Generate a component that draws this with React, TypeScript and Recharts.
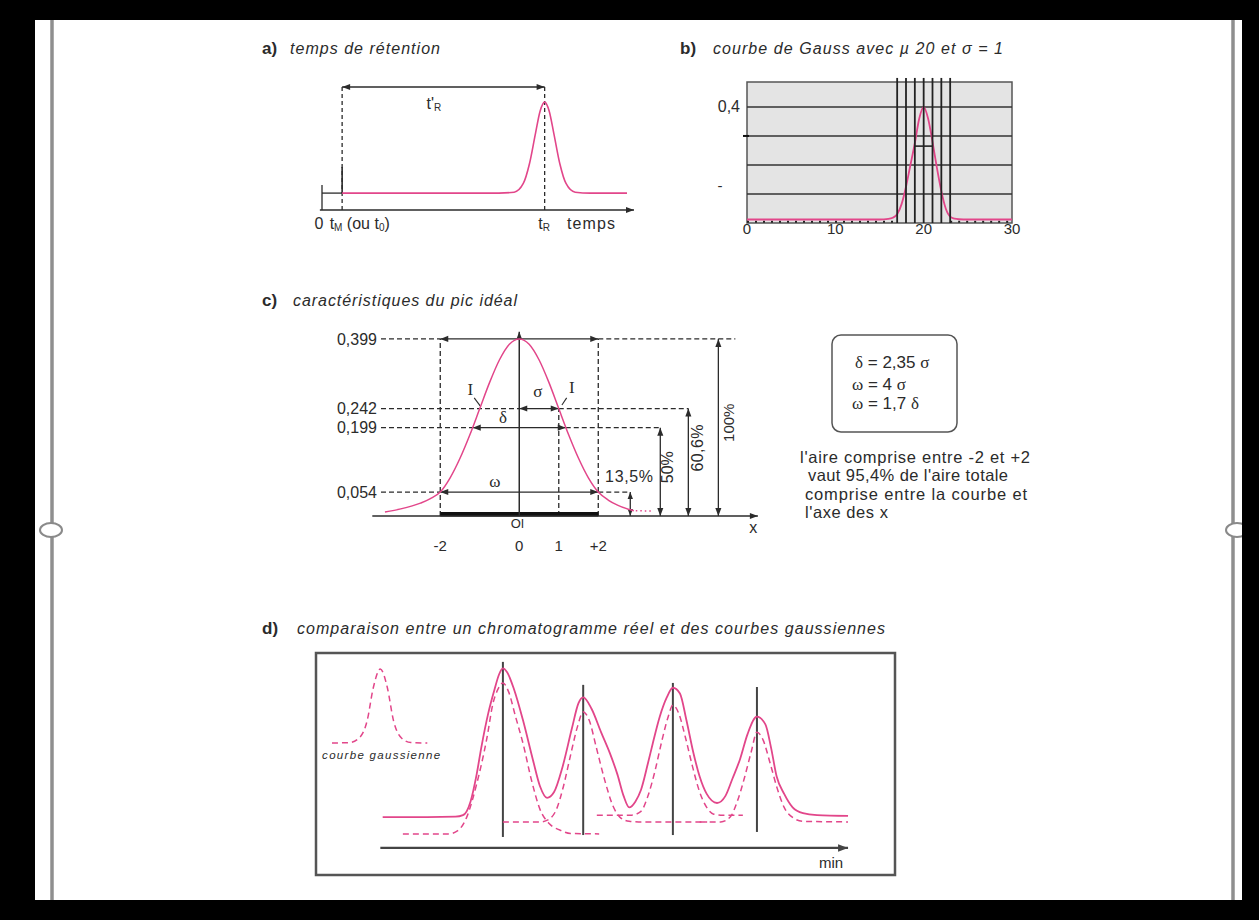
import React from 'react';
import { LineChart, Line, XAxis, YAxis, ReferenceLine, ReferenceDot, ReferenceArea } from 'recharts';

const SANS = '"Liberation Sans", Arial, sans-serif';
const SERIF = '"Liberation Serif", "Times New Roman", serif';
const PINK = '#e2468a';
const INK = '#2b2b2b';

// a) temps de rétention
const aTime = [0.66, 2, 4, 5.8, 6.3, 6.6, 6.8, 7.0, 7.15, 7.3, 7.45, 7.6, 7.8, 8.0, 8.3, 8.8, 10];
const aSignal = [1.3, 1.3, 1.3, 1.3, 1.37, 2.04, 3.54, 5.9, 7.6, 8.3, 7.6, 5.9, 3.54, 2.04, 1.37, 1.3, 1.3];
const aTM = 0.66;
const aTR = 7.3;

// b) courbe de Gauss, mu 20, sigma 1
const bX = [0, 5, 10, 15, 16, 16.5, 17, 17.5, 18, 18.5, 19, 19.5, 20, 20.5, 21, 21.5, 22, 22.5, 23, 23.5, 24, 25, 30];
const bY = [0.012, 0.012, 0.012, 0.012, 0.014, 0.018, 0.03, 0.065, 0.125, 0.2, 0.275, 0.36, 0.4, 0.36, 0.28, 0.19, 0.11, 0.05, 0.022, 0.015, 0.013, 0.012, 0.012];
const bGridY = [0.1, 0.2, 0.3, 0.4];
const bGridX = [17, 18, 19, 20, 21, 22, 23];
const bTicksX = [0, 10, 20, 30];
const bTicksY = [0.13, 0.3, 0.4];

// c) pic idéal
const cX = [-3.4, -3.0, -2.5, -2.25, -2.0, -1.75, -1.5, -1.25, -1.0, -0.75, -0.5, -0.25, 0, 0.25, 0.5, 0.75, 1.0, 1.25, 1.5, 1.75, 2.0, 2.25, 2.5, 2.9];
const cY = [0.009, 0.016, 0.029, 0.039, 0.054, 0.086, 0.13, 0.183, 0.242, 0.301, 0.352, 0.387, 0.399, 0.387, 0.352, 0.301, 0.242, 0.183, 0.13, 0.086, 0.054, 0.036, 0.024, 0.012];
const cLevels = [0.054, 0.199, 0.242, 0.399];
const cTicksX = [-2, 0, 1, 2];

// d) chromatogramme réel vs gaussiennes
const dRealX = [0.5, 10, 16, 17.6, 19.2, 20.5, 21.5, 23, 24.3, 25.3, 26.1, 27, 28.5, 30.4, 32.5, 34, 35.5, 37, 38.8, 40.8, 42.2, 43.2, 45, 47, 48.9, 50.5, 51.8, 53, 54.3, 55.5, 57, 58, 59.5, 61, 62.3, 63.8, 65.2, 66.6, 68, 69.5, 71.7, 73.5, 75, 76.6, 78.2, 80.2, 82, 83.2, 84.4, 86, 87.8, 90, 93, 99.6];
const dRealY = [16, 16, 16.2, 17, 24, 38, 52, 70, 82, 90, 93, 91, 82, 66, 45.6, 32, 26, 29, 42, 62, 75, 78, 72, 60, 49, 38, 27, 21, 24, 30, 44, 54, 68, 78, 83, 80, 66, 50, 37, 28, 23.3, 27, 36, 46, 59, 68, 64, 52, 37, 28, 21, 18, 17, 16.6];
const dG1X = [4.8, 14.5, 16.5, 18.4, 20.5, 22.7, 24, 25, 26.1, 27.3, 28.8, 30.4, 32.2, 34, 36, 38.2, 40.5, 46.6];
const dG1Y = [7.3, 7.3, 9, 16, 33, 57, 75, 82, 85.5, 81, 68, 54, 35, 20, 12.5, 9.3, 7.5, 7.3];
const dG2X = [26.1, 34, 36, 37.5, 39, 40.5, 42, 43.2, 44.5, 46, 47.8, 49.5, 51, 53, 55, 69.6];
const dG2Y = [13.5, 13.5, 15, 20, 32, 48, 63, 70.5, 66, 52, 35, 22, 16, 13.8, 13.5, 13.5];
const dG3X = [46.1, 53.5, 55.5, 57, 58.5, 60, 61.3, 62.3, 63.5, 65, 66.5, 68, 69.5, 71, 73, 77.2];
const dG3Y = [17, 17, 19, 27, 40, 56, 68, 74, 70, 57, 42, 29, 21, 17.5, 17, 17];
const dG4X = [68, 72.5, 74.5, 76, 77.5, 79, 80.2, 81.5, 83, 84.5, 86, 88, 90, 99.6];
const dG4Y = [13.5, 13.5, 16, 24, 36, 50, 60, 56, 44, 31, 21, 15.5, 13.8, 13.5];
const dSampleX = [-10.3, -6.5, -4.5, -2.8, -1.5, 0, 1.5, 2.8, 4.5, 6.5, 10];
const dSampleY = [54.4, 54.6, 57, 66, 83, 92.7, 83, 66, 57, 54.6, 54.4];
const dPeakX = [26.1, 43.2, 62.3, 80.2];
const dPeakLow = [5.7, 6.7, 6.7, 8.3];
const dPeakHigh = [96.4, 84.5, 85.5, 83.4];

const pts = (xs: number[], ys: number[]) => xs.map((x, i) => ({ x, y: ys[i] }));

type M = { top: number; right: number; bottom: number; left: number };
function frame(px: number, py: number, pw: number, ph: number, m: M, yw = 0, xh = 0) {
  return {
    left: px - m.left - yw,
    top: py - m.top,
    width: m.left + yw + pw + m.right,
    height: m.top + ph + xh + m.bottom,
    margin: m,
  };
}

type SegOpt = { a?: boolean; b?: boolean; dash?: string; w?: number; c?: string; head?: number };
function arrowShape(o: SegOpt) {
  const { a = false, b = false, dash, w = 1.3, c = INK, head = 8 } = o;
  return (p: any) => {
    const { x1, y1, x2, y2 } = p;
    if (x1 == null) return <g />;
    const ang = Math.atan2(y2 - y1, x2 - x1);
    const tri = (x: number, y: number, dir: number) => {
      const bx = x - head * Math.cos(dir);
      const by = y - head * Math.sin(dir);
      const hw = head * 0.38;
      const ox = -Math.sin(dir) * hw;
      const oy = Math.cos(dir) * hw;
      return `${x},${y} ${bx + ox},${by + oy} ${bx - ox},${by - oy}`;
    };
    return (
      <g>
        <line x1={x1} y1={y1} x2={x2} y2={y2} stroke={c} strokeWidth={w} strokeDasharray={dash} />
        {a && <polygon points={tri(x1, y1, ang + Math.PI)} fill={c} />}
        {b && <polygon points={tri(x2, y2, ang)} fill={c} />}
      </g>
    );
  };
}

function seg(id: string, x1: number, y1: number, x2: number, y2: number, o: SegOpt = {}) {
  return (
    <ReferenceLine
      key={id}
      segment={[{ x: x1, y: y1 }, { x: x2, y: y2 }]}
      ifOverflow="visible"
      shape={arrowShape(o)}
    />
  );
}

type TOpt = {
  size?: number;
  anchor?: 'start' | 'middle' | 'end';
  family?: string;
  italic?: boolean;
  bold?: boolean;
  rotate?: number;
  len?: number;
  fill?: string;
};
function note(id: string, x: number, y: number, content: React.ReactNode, o: TOpt = {}) {
  return (
    <ReferenceDot
      key={id}
      x={x}
      y={y}
      r={0}
      ifOverflow="visible"
      shape={(p: any) => (
        <text
          x={p.cx}
          y={p.cy}
          fontSize={o.size ?? 15}
          fontFamily={o.family ?? SANS}
          fontStyle={o.italic ? 'italic' : undefined}
          fontWeight={o.bold ? 700 : undefined}
          textAnchor={o.anchor ?? 'middle'}
          dominantBaseline="central"
          fill={o.fill ?? INK}
          textLength={o.len}
          lengthAdjust={o.len ? 'spacing' : undefined}
          transform={o.rotate ? `rotate(${o.rotate} ${p.cx} ${p.cy})` : undefined}
        >
          {content}
        </text>
      )}
    />
  );
}

function PanelA() {
  const f = frame(322, 80, 305, 130, { top: 10, right: 40, bottom: 30, left: 40 });
  return (
    <div style={{ position: 'absolute', left: f.left, top: f.top }}>
      <LineChart width={f.width} height={f.height} margin={f.margin}>
        <XAxis type="number" dataKey="x" domain={[0, 10]} hide allowDataOverflow />
        <YAxis type="number" domain={[0, 10]} hide allowDataOverflow />
        {seg('axis', -0.07, 0, 10.23, 0, { b: true, w: 1.5 })}
        {seg('tick0', 0, 0, 0, 1.92, { w: 1.3 })}
        {seg('base0', 0, 1.3, aTM, 1.3, { w: 1.3 })}
        {seg('inj', aTM, 1.3, aTM, 3.3, { w: 1.6 })}
        {seg('vtm', aTM, 0, aTM, 9.46, { dash: '4 3' })}
        {seg('vtr', aTR, 0, aTR, 9.46, { dash: '4 3' })}
        {seg('tprime', aTM, 9.46, aTR, 9.46, { a: true, b: true })}
        <Line
          data={pts(aTime, aSignal)}
          dataKey="y"
          type="monotone"
          stroke={PINK}
          strokeWidth={1.6}
          dot={false}
          activeDot={false}
          isAnimationActive={false}
        />
        {note('tpr', 3.67, 8.2, <>t'<tspan dy={4} fontSize={10}>R</tspan></>, { size: 16 })}
        {note('l0', -0.1, -1.0, '0', { size: 16 })}
        {note(
          'ltm',
          0.25,
          -1.0,
          <>
            t<tspan dy={4} fontSize={10}>M</tspan>
            <tspan dy={-4}> (ou t</tspan>
            <tspan dy={4} fontSize={10}>0</tspan>
            <tspan dy={-4}>)</tspan>
          </>,
          { size: 16, anchor: 'start' }
        )}
        {note('ltr', 7.28, -1.0, <>t<tspan dy={4} fontSize={10}>R</tspan></>, { size: 16 })}
        {note('ltemps', 8.03, -1.0, 'temps', { size: 16, anchor: 'start', len: 48 })}
      </LineChart>
    </div>
  );
}

function PanelB() {
  const f = frame(747, 82, 265, 141, { top: 12, right: 30, bottom: 0, left: 0 }, 50, 25);
  return (
    <div style={{ position: 'absolute', left: f.left, top: f.top }}>
      <LineChart width={f.width} height={f.height} margin={f.margin}>
        <XAxis
          type="number"
          dataKey="x"
          domain={[0, 30]}
          ticks={bTicksX}
          interval={0}
          axisLine={false}
          tickLine={false}
          tickSize={0}
          tickMargin={0}
          height={25}
          tick={{ fontSize: 15, fill: INK, fontFamily: SANS }}
          allowDataOverflow
        />
        <YAxis
          type="number"
          domain={[0, 0.486]}
          ticks={bTicksY}
          interval={0}
          width={50}
          axisLine={false}
          tickLine={false}
          tickSize={0}
          tickMargin={7}
          allowDataOverflow
          tick={(p: any) => {
            const v = p.payload.value;
            if (v === 0.4)
              return (
                <text x={p.x} y={p.y} textAnchor="end" dominantBaseline="central" fontSize={16} fill={INK} fontFamily={SANS}>
                  0,4
                </text>
              );
            if (v === 0.3) return <line x1={p.x + 3} x2={p.x + 9} y1={p.y} y2={p.y} stroke="#111" strokeWidth={2} />;
            return (
              <text x={p.x - 20} y={p.y} textAnchor="middle" dominantBaseline="central" fontSize={15} fill={INK} fontFamily={SANS}>
                -
              </text>
            );
          }}
        />
        <ReferenceArea x1={0} x2={30} y1={0} y2={0.486} fill="#e4e4e4" fillOpacity={1} stroke="#555" strokeWidth={1.5} ifOverflow="visible" />
        {bGridY.map((v) => (
          <ReferenceLine key={`gy${v}`} y={v} stroke="#333" strokeWidth={1.6} ifOverflow="visible" />
        ))}
        {seg('dots1', 0, 0.004, 17, 0.004, { dash: '2 6', w: 2, c: '#222' })}
        {seg('dots2', 23, 0.004, 30, 0.004, { dash: '2 6', w: 2, c: '#222' })}
        <Line
          data={pts(bX, bY)}
          dataKey="y"
          type="monotone"
          stroke={PINK}
          strokeWidth={1.8}
          dot={false}
          activeDot={false}
          isAnimationActive={false}
        />
        {bGridX.map((v) => seg(`gx${v}`, v, 0, v, 0.5, { w: 1.8, c: '#222' }))}
        {seg('fwhm', 19, 0.265, 21, 0.265, { w: 1.6, c: '#222' })}
      </LineChart>
    </div>
  );
}

function PanelC() {
  const f = frame(381, 326, 383.2, 190, { top: 10, right: 20, bottom: 0, left: 0 }, 60, 40);
  const dash = '5 3';
  const sigma = 1.177;
  return (
    <div style={{ position: 'absolute', left: f.left, top: f.top }}>
      <LineChart width={f.width} height={f.height} margin={f.margin}>
        <XAxis
          type="number"
          dataKey="x"
          domain={[-3.5, 6.2]}
          ticks={cTicksX}
          interval={0}
          tickFormatter={(v: number) => (v === 2 ? '+2' : String(v))}
          axisLine={false}
          tickLine={false}
          tickSize={0}
          tickMargin={24}
          height={40}
          tick={{ fontSize: 15, fill: INK, fontFamily: SANS }}
          allowDataOverflow
        />
        <YAxis
          type="number"
          domain={[0, 0.428]}
          ticks={cLevels}
          interval={0}
          tickFormatter={(v: number) => String(v).replace('.', ',')}
          width={60}
          axisLine={false}
          tickLine={false}
          tickSize={0}
          tickMargin={4}
          tick={{ fontSize: 16, fill: INK, fontFamily: SANS }}
          allowDataOverflow
        />
        {seg('h399a', -3.5, 0.399, -2, 0.399, { dash })}
        {seg('h399b', 2, 0.399, 5.47, 0.399, { dash })}
        {seg('h242a', -3.5, 0.242, 0, 0.242, { dash })}
        {seg('h242b', 1, 0.242, 4.28, 0.242, { dash })}
        {seg('h199a', -3.5, 0.199, -sigma, 0.199, { dash })}
        {seg('h199b', sigma, 0.199, 3.57, 0.199, { dash })}
        {seg('h054a', -3.5, 0.054, -2, 0.054, { dash })}
        {seg('h054b', 2, 0.054, 2.81, 0.054, { dash })}
        {seg('vm2', -2, 0, -2, 0.399, { dash })}
        {seg('vp2', 2, 0, 2, 0.399, { dash })}
        {seg('vp1', 1, 0, 1, 0.242, { dash })}
        {seg('bar', -2, 0.004, 2, 0.004, { w: 4.5, c: '#111' })}
        {seg('xaxis', -3.72, 0, 6.04, 0, { b: true, w: 1.5 })}
        {seg('yaxis', 0, 0, 0, 0.415, { b: true, w: 1.5 })}
        {seg('a399', -2, 0.399, 2, 0.399, { a: true, b: true })}
        {seg('a242', 0, 0.242, 1, 0.242, { a: true, b: true })}
        {seg('a199', -sigma, 0.199, sigma, 0.199, { a: true, b: true })}
        {seg('a054', -2, 0.054, 2, 0.054, { a: true, b: true })}
        {seg('p135', 2.81, 0, 2.81, 0.054, { a: true, b: true, head: 7 })}
        {seg('p50', 3.57, 0, 3.57, 0.199, { a: true, b: true })}
        {seg('p606', 4.28, 0, 4.28, 0.242, { a: true, b: true })}
        {seg('p100', 5.04, 0, 5.04, 0.399, { a: true, b: true })}
        {seg('iL', -1.14, 0.266, -0.99, 0.248, { w: 1.1 })}
        {seg('iR', 1.2, 0.266, 1.08, 0.25, { w: 1.1 })}
        <Line
          data={pts(cX, cY)}
          dataKey="y"
          type="monotone"
          stroke={PINK}
          strokeWidth={1.5}
          dot={false}
          activeDot={false}
          isAnimationActive={false}
        />
        {seg('tail', 2.95, 0.012, 3.4, 0.011, { dash: '1.5 3', w: 1.5, c: PINK })}
        {note('I1', -1.24, 0.284, 'I', { size: 17, family: SERIF })}
        {note('I2', 1.33, 0.289, 'I', { size: 17, family: SERIF })}
        {note('sig', 0.47, 0.28, 'σ', { size: 17, family: SERIF })}
        {note('del', -0.41, 0.221, 'δ', { size: 17, family: SERIF })}
        {note('ome', -0.62, 0.077, 'ω', { size: 17, family: SERIF })}
        {note('p135t', 2.78, 0.088, '13,5%', { size: 16, len: 48 })}
        {note('p50t', 3.75, 0.11, '50%', { size: 16, rotate: -90 })}
        {note('p606t', 4.5, 0.153, '60,6%', { size: 16, rotate: -90, len: 47 })}
        {note('p100t', 5.29, 0.21, '100%', { size: 15, rotate: -90 })}
        {note('xl', 5.92, -0.025, 'x', { size: 16 })}
        {note('ol', -0.05, -0.018, 'Ol', { size: 13 })}
      </LineChart>
    </div>
  );
}

function PanelD() {
  const f = frame(316, 653, 579, 222, { top: 6, right: 6, bottom: 6, left: 6 });
  const lineProps = { dataKey: 'y', type: 'monotone' as const, dot: false, activeDot: false, isAnimationActive: false };
  return (
    <div style={{ position: 'absolute', left: f.left, top: f.top }}>
      <LineChart width={f.width} height={f.height} margin={f.margin}>
        <XAxis type="number" dataKey="x" domain={[-13.7, 109.6]} hide allowDataOverflow />
        <YAxis type="number" domain={[-14, 101]} hide allowDataOverflow />
        <ReferenceArea x1={-13.7} x2={109.6} y1={-14} y2={101} fill="none" stroke="#555" strokeWidth={2.5} ifOverflow="visible" />
        {seg('axis', 0, 0, 99.6, 0, { b: true, w: 2.2, c: '#444', head: 10 })}
        {dPeakX.map((x, i) => seg(`pk${i}`, x, dPeakLow[i], x, dPeakHigh[i], { w: 2, c: '#444' }))}
        <Line data={pts(dSampleX, dSampleY)} stroke={PINK} strokeWidth={1.5} strokeDasharray="6 4" {...lineProps} />
        <Line data={pts(dG1X, dG1Y)} stroke={PINK} strokeWidth={1.5} strokeDasharray="6 4" {...lineProps} />
        <Line data={pts(dG2X, dG2Y)} stroke={PINK} strokeWidth={1.5} strokeDasharray="6 4" {...lineProps} />
        <Line data={pts(dG3X, dG3Y)} stroke={PINK} strokeWidth={1.5} strokeDasharray="6 4" {...lineProps} />
        <Line data={pts(dG4X, dG4Y)} stroke={PINK} strokeWidth={1.5} strokeDasharray="6 4" {...lineProps} />
        <Line data={pts(dRealX, dRealY)} stroke={PINK} strokeWidth={1.8} {...lineProps} />
        {note('cg', -12.4, 48.2, 'courbe gaussienne', { size: 11.5, anchor: 'start', italic: true, len: 118 })}
        {note('min', 96, -7.5, 'min', { size: 15 })}
      </LineChart>
    </div>
  );
}

function Page() {
  const t = { fontFamily: SANS, fill: INK, dominantBaseline: 'central' as const };
  return (
    <svg width={1259} height={920} style={{ position: 'absolute', left: 0, top: 0 }}>
      <rect x={35} y={20} width={1207} height={880} fill="#fff" />
      <line x1={52} y1={20} x2={52} y2={900} stroke="#8f8f8f" strokeWidth={3.5} />
      <ellipse cx={51} cy={530} rx={11} ry={7} fill="#fff" stroke="#8a8a8a" strokeWidth={2} />
      <line x1={1233} y1={20} x2={1233} y2={900} stroke="#8f8f8f" strokeWidth={3.5} />
      <ellipse cx={1237} cy={530} rx={11} ry={7} fill="#fff" stroke="#8a8a8a" strokeWidth={2} />
      <rect x={1242} y={0} width={17} height={920} fill="#000" />

      <text x={262} y={48} fontSize={17} fontWeight={700} {...t}>a)</text>
      <text x={290} y={48} fontSize={16} fontStyle="italic" textLength={150} {...t}>temps de rétention</text>
      <text x={680} y={48} fontSize={17} fontWeight={700} {...t}>b)</text>
      <text x={713} y={48} fontSize={16} fontStyle="italic" textLength={290} {...t}>courbe de Gauss avec µ 20 et σ = 1</text>
      <text x={262} y={300} fontSize={17} fontWeight={700} {...t}>c)</text>
      <text x={293} y={300} fontSize={16} fontStyle="italic" textLength={224} {...t}>caractéristiques du pic idéal</text>
      <text x={262} y={628} fontSize={17} fontWeight={700} {...t}>d)</text>
      <text x={297} y={628} fontSize={16} fontStyle="italic" textLength={588} {...t}>comparaison entre un chromatogramme réel et des courbes gaussiennes</text>

      <rect x={832} y={335} width={125} height={97} rx={9} fill="none" stroke="#555" strokeWidth={1.5} />
      <text x={855} y={362} fontSize={17} {...t}>
        <tspan fontFamily={SERIF}>δ</tspan> = 2,35 <tspan fontFamily={SERIF}>σ</tspan>
      </text>
      <text x={852} y={384} fontSize={17} {...t}>
        <tspan fontFamily={SERIF}>ω</tspan> = 4 <tspan fontFamily={SERIF}>σ</tspan>
      </text>
      <text x={852} y={403} fontSize={17} {...t}>
        <tspan fontFamily={SERIF}>ω</tspan> = 1,7 <tspan fontFamily={SERIF}>δ</tspan>
      </text>
      <text x={800} y={457} fontSize={16.5} textLength={230} {...t}>l'aire comprise entre -2 et +2</text>
      <text x={808} y={475} fontSize={16.5} textLength={200} {...t}>vaut 95,4% de l'aire totale</text>
      <text x={805} y={494} fontSize={16.5} textLength={222} {...t}>comprise entre la courbe et</text>
      <text x={805} y={512} fontSize={16.5} textLength={83} {...t}>l'axe des x</text>
    </svg>
  );
}

export default function App() {
  return (
    <div style={{ position: 'fixed', left: 0, top: 0, width: 1259, height: 920, background: '#000', overflow: 'hidden', fontFamily: SANS }}>
      <Page />
      <PanelA />
      <PanelB />
      <PanelC />
      <PanelD />
    </div>
  );
}
